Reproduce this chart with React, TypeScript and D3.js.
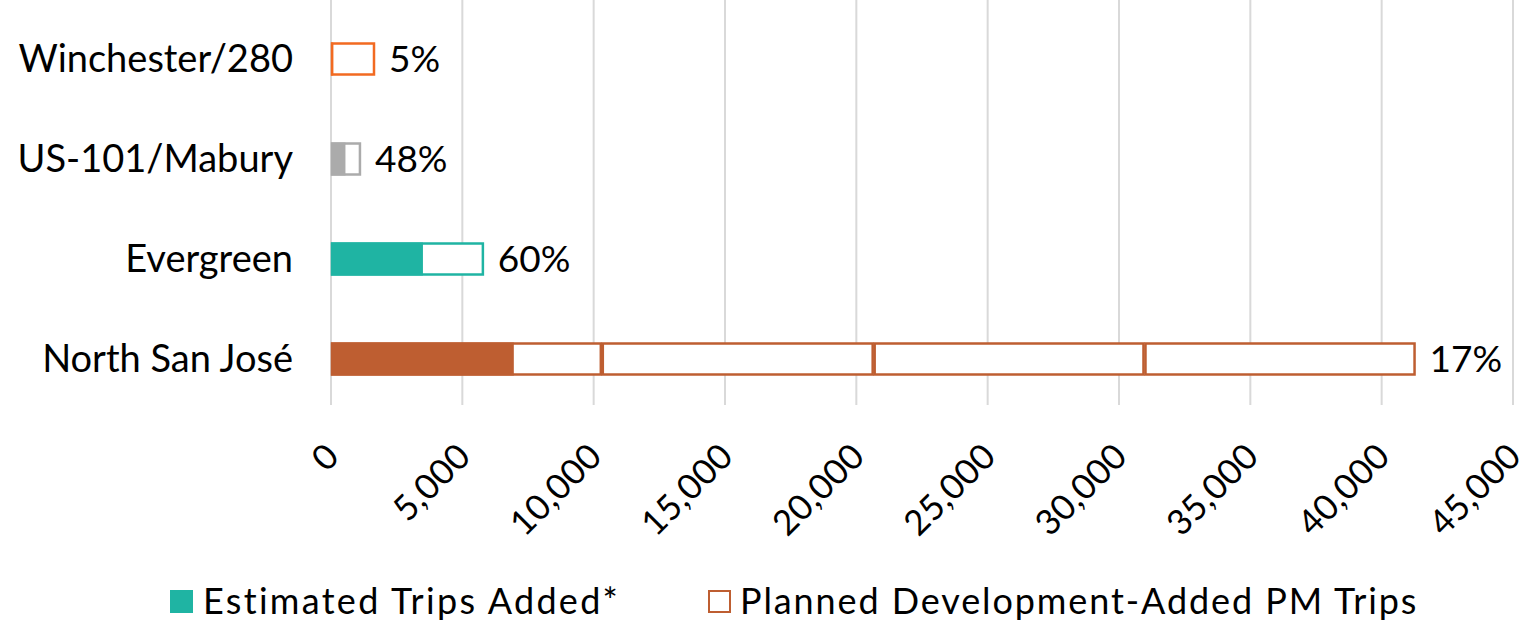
import React, { useEffect, useRef } from 'react';
import * as d3 from 'd3';

const categories = ['Winchester/280', 'US-101/Mabury', 'Evergreen', 'North San José'];
const estimatedTrips = [84, 550, 3500, 6960];
// planned trips drawn as outlined segments (North San José shows four)
const plannedSegments = [[1675], [1140], [5820], [10310, 10350, 10310, 10320]];
const shareLabels = ['5%', '48%', '60%', '17%'];
const barColors = ['#f26a21', '#ababab', '#1fb4a3', '#be5e31'];
const xTicks = [0, 5000, 10000, 15000, 20000, 25000, 30000, 35000, 40000, 45000];

const FONT = 'Lato, "Noto Sans", sans-serif';

export default function App() {
  const ref = useRef<SVGSVGElement>(null);

  useEffect(() => {
    if (!ref.current) return;
    const svg = d3.select(ref.current);
    svg.selectAll('*').remove();

    const x = d3.scaleLinear().domain([0, 45000]).range([331, 1513]);
    const y = d3.scaleBand<string>()
      .domain(categories)
      .range([9, 409])
      .paddingInner(0.67)
      .paddingOuter(0.335);

    // gridlines
    svg.append('g')
      .selectAll('line')
      .data(xTicks)
      .enter()
      .append('line')
      .attr('x1', d => x(d))
      .attr('x2', d => x(d))
      .attr('y1', 0)
      .attr('y2', 405)
      .attr('stroke', '#d9d9d9')
      .attr('stroke-width', 2);

    // tick labels
    svg.append('g')
      .selectAll('text')
      .data(xTicks)
      .enter()
      .append('text')
      .attr('transform', d => `translate(${x(d) - 7},${441}) rotate(-45)`)
      .attr('text-anchor', 'end')
      .attr('dy', '0.7em')
      .style('font-family', FONT)
      .style('font-size', '35px')
      .style('letter-spacing', '0.5px')
      .attr('fill', '#000')
      .text(d => d3.format(',')(d));

    // category labels
    svg.append('g')
      .selectAll('text')
      .data(categories)
      .enter()
      .append('text')
      .attr('x', 293)
      .attr('y', d => (y(d) as number) + y.bandwidth() / 2)
      .attr('dy', '0.35em')
      .attr('text-anchor', 'end')
      .style('font-family', FONT)
      .style('font-size', '38px')
      .attr('fill', '#000')
      .text(d => d);

    // planned segments (outlined)
    categories.forEach((c, i) => {
      let start = 0;
      plannedSegments[i].forEach(v => {
        svg.append('rect')
          .attr('x', x(start) + 1)
          .attr('y', (y(c) as number) + 1)
          .attr('width', x(start + v) - x(start) - 2)
          .attr('height', y.bandwidth() - 2)
          .attr('fill', '#fff')
          .attr('stroke', barColors[i])
          .attr('stroke-width', 2.5);
        start += v;
      });
    });

    // estimated trips (filled)
    svg.append('g')
      .selectAll('rect')
      .data(categories)
      .enter()
      .append('rect')
      .attr('x', x(0))
      .attr('y', d => y(d) as number)
      .attr('width', (d, i) => x(estimatedTrips[i]) - x(0))
      .attr('height', y.bandwidth())
      .attr('fill', (d, i) => barColors[i]);

    // share labels
    svg.append('g')
      .selectAll('text')
      .data(categories)
      .enter()
      .append('text')
      .attr('x', (d, i) => x(d3.sum(plannedSegments[i])) + 14)
      .attr('y', d => (y(d) as number) + y.bandwidth() / 2)
      .attr('dy', '0.35em')
      .style('font-family', FONT)
      .style('font-size', '37px')
      .attr('fill', '#000')
      .text((d, i) => shareLabels[i]);

    // legend
    const legend = svg.append('g');
    legend.append('rect')
      .attr('x', 170).attr('y', 590).attr('width', 23).attr('height', 23)
      .attr('fill', '#1fb4a3');
    legend.append('text')
      .attr('x', 203).attr('y', 601).attr('dy', '0.35em')
      .style('font-family', FONT).style('font-size', '36px')
      .style('letter-spacing', '2.3px')
      .text('Estimated Trips Added*');
    legend.append('rect')
      .attr('x', 709).attr('y', 591).attr('width', 21).attr('height', 21)
      .attr('fill', '#fff').attr('stroke', '#be5e31').attr('stroke-width', 2);
    legend.append('text')
      .attr('x', 740).attr('y', 601).attr('dy', '0.35em')
      .style('font-family', FONT).style('font-size', '36px')
      .style('letter-spacing', '1.9px')
      .text('Planned Development-Added PM Trips');
  }, []);

  return (
    <svg
      ref={ref}
      width={1530}
      height={624}
      style={{ position: 'absolute', left: 0, top: 0, background: '#fff' }}
    />
  );
}
